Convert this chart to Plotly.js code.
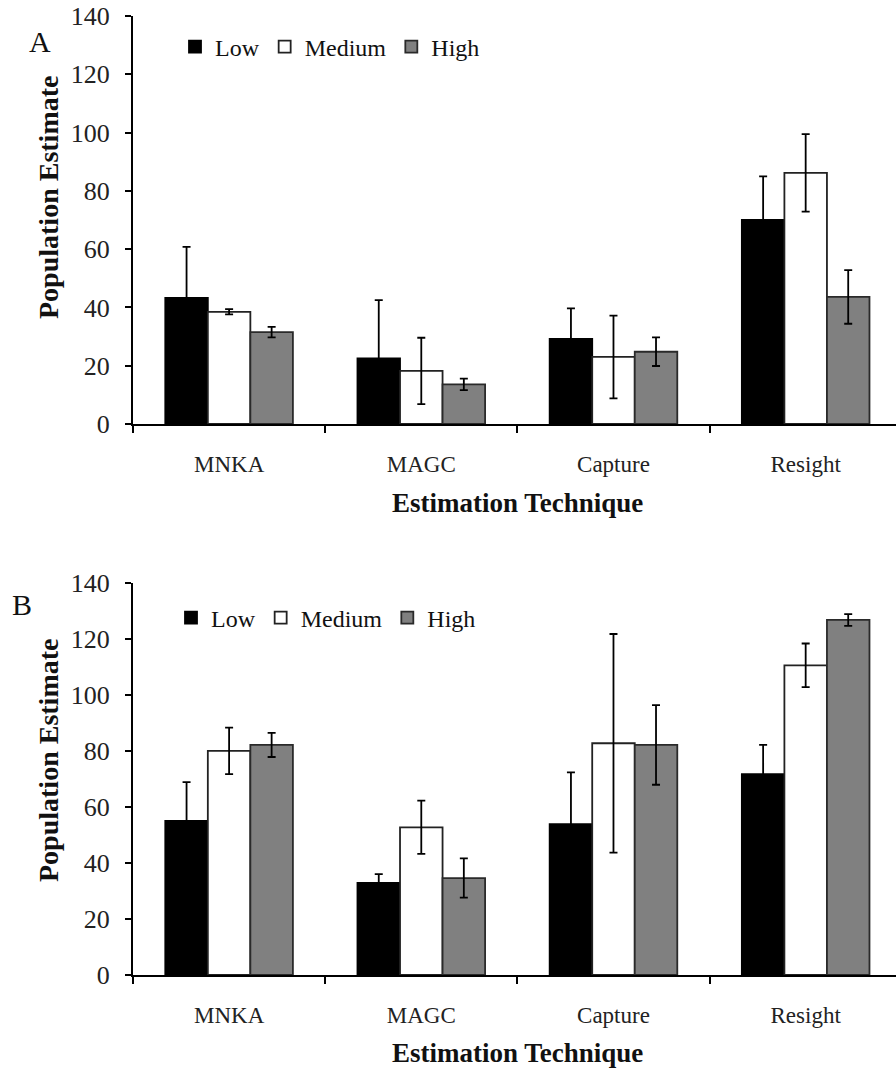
<!DOCTYPE html>
<html>
<head>
<meta charset="utf-8">
<script src="https://cdn.plot.ly/plotly-3.0.1.min.js"></script>
<style>html,body{margin:0;padding:0;background:#fff;}#chart{width:896px;height:1069px;}</style>
</head>
<body>
<div id="chart"></div>
<script>
const categories = ["MNKA", "MAGC", "Capture", "Resight"];
const seriesNames = ["Low", "Medium", "High"];

// Panel A
const aLow = [43.3, 22.5, 29.2, 70.0];
const aLowErr = [17.5, 20.0, 10.5, 15.0];
const aMed = [38.5, 18.2, 23.0, 86.2];
const aMedErr = [0.9, 11.4, 14.2, 13.3];
const aHigh = [31.5, 13.6, 24.8, 43.6];
const aHighErr = [1.8, 2.0, 4.9, 9.2];

// Panel B
const bLow = [55.0, 32.9, 53.8, 71.7];
const bLowErr = [13.8, 3.1, 18.5, 10.4];
const bMed = [80.0, 52.7, 82.7, 110.5];
const bMedErr = [8.3, 9.5, 39.0, 7.8];
const bHigh = [82.1, 34.6, 82.1, 126.7];
const bHighErr = [4.3, 7.0, 14.2, 2.1];

const yTicks = [0, 20, 40, 60, 80, 100, 120, 140];

const fills = ["#000000", "#ffffff", "#808080"];
const outlines = ["#000000", "#222222", "#2a2a2a"];
const FONT = "Liberation Serif, Times New Roman, serif";

function mk(vals, errs, i, xa, ya, leg) {
  return {
    type: "bar", x: categories, y: vals, name: seriesNames[i],
    xaxis: xa, yaxis: ya, legend: leg,
    marker: {color: fills[i], line: {color: outlines[i], width: 1.8}},
    error_y: {type: "data", array: errs, visible: true, color: "#000", thickness: 1.8, width: 4}
  };
}

const data = [
  mk(aLow, aLowErr, 0, "x", "y", "legend"),
  mk(aMed, aMedErr, 1, "x", "y", "legend"),
  mk(aHigh, aHighErr, 2, "x", "y", "legend"),
  mk(bLow, bLowErr, 0, "x2", "y2", "legend2"),
  mk(bMed, bMedErr, 1, "x2", "y2", "legend2"),
  mk(bHigh, bHighErr, 2, "x2", "y2", "legend2")
];

const W = 896, H = 1069;
function xAxis(anchor) {
  return {
    anchor: anchor, domain: [133 / W, 1], type: "category",
    range: [-0.5, 3.47], tickson: "boundaries", ticks: "outside",
    ticklen: 7, tickwidth: 2, tickcolor: "#000",
    showline: true, linecolor: "#000", linewidth: 2,
    showgrid: false, zeroline: false, fixedrange: true,
    tickfont: {family: FONT, size: 23, color: "#222"},
    ticklabelstandoff: 18
  };
}
function yAxis(anchor, dom) {
  return {
    anchor: anchor, domain: dom, range: [0, 140],
    tickvals: yTicks, ticktext: yTicks.map(String),
    ticks: "outside", ticklen: 6, tickwidth: 2, tickcolor: "#000",
    showline: true, linecolor: "#000", linewidth: 2,
    showgrid: false, zeroline: false,
    tickfont: {family: FONT, size: 26, color: "#222"},
    ticklabelstandoff: 10
  };
}

const legendBase = {
  orientation: "h", xref: "paper", yref: "paper", xanchor: "left", yanchor: "middle",
  font: {family: FONT, size: 24, color: "#111"}, itemwidth: 30,
  bgcolor: "rgba(0,0,0,0)", traceorder: "normal", itemclick: false, itemdoubleclick: false
};

function ann(text, xp, yp, size, angle) {
  return {text: text, x: xp / W, y: 1 - yp / H, xref: "paper", yref: "paper",
    xanchor: "center", yanchor: "middle", showarrow: false, textangle: angle || 0,
    font: {family: FONT, size: size, color: "#111"}};
}

const layout = {
  width: W, height: H,
  margin: {l: 0, r: 0, t: 0, b: 0},
  paper_bgcolor: "#fff", plot_bgcolor: "#fff",
  barmode: "group", bargap: 0.336, bargroupgap: 0,
  showlegend: true,
  xaxis: xAxis("y"),
  yaxis: yAxis("x", [1 - 424 / H, 1 - 16 / H]),
  xaxis2: xAxis("y2"),
  yaxis2: yAxis("x2", [1 - 975 / H, 1 - 582.7 / H]),
  legend: Object.assign({}, legendBase, {x: 175 / W, y: 1 - 47 / H}),
  legend2: Object.assign({}, legendBase, {x: 171 / W, y: 1 - 618 / H}),
  annotations: [
    ann("A", 40, 42, 30),
    ann("B", 22, 604, 30),
    ann("<b>Population Estimate</b>", 48, 198, 28, -90),
    ann("<b>Population Estimate</b>", 48, 761, 28, -90),
    ann("<b>Estimation Technique</b>", 517, 503, 27),
    ann("<b>Estimation Technique</b>", 517, 1053, 27)
  ]
};

Plotly.newPlot("chart", data, layout, {displayModeBar: false, staticPlot: true});
</script>
</body>
</html>
